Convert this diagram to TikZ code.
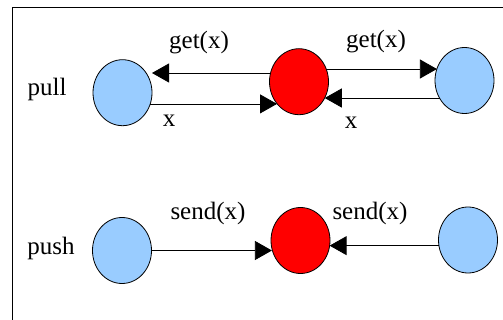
\documentclass[tikz,border=0pt]{standalone}
\usepackage{fontspec}
\setmainfont{Liberation Serif}
\usetikzlibrary{arrows.meta,shapes.geometric}
\definecolor{lblue}{HTML}{99CCFF}
\begin{document}
\begin{tikzpicture}[x=1pt,y=-1pt,
  proc/.style={ellipse,draw=black,line width=0.8pt,minimum width=59pt,minimum height=66pt,inner sep=0pt,outer sep=0pt},
  client/.style={proc,fill=lblue},
  server/.style={proc,fill=red},
  arr/.style={draw=black,line width=0.8pt,-{Triangle[length=17pt,width=19pt]}},
  lbl/.style={inner sep=0pt,font=\fontsize{25}{30}\selectfont}]
\useasboundingbox (0,0) rectangle (503,320);
\draw[line width=1pt] (12,320) -- (12,8) -- (503,8);
% pull
\node[client] (L1) at (122.5,92.7) {};
\node[server] (R1) at (299,81.7) {};
\node[client] (C1) at (464.5,80.5) {};
% push
\node[client] (L2) at (122,250.5) {};
\node[server] (R2) at (300.5,240.5) {};
\node[client] (C2) at (468,240) {};
% pull arrows
\draw[arr] (R1.163.4) -- (R1.163.4 -| L1.east);
\draw[arr] (L1.-22.6) -- (L1.-22.6 -| R1.225.9);
\draw[arr] (R1.25.4) -- (R1.25.4 -| C1.157.4);
\draw[arr] (C1.215) -- (C1.215 -| R1.-32.8);
% push arrows
\draw[arr] (L2.east) -- (L2.east -| R2.196.6);
\draw[arr] (C2.191.5) -- (C2.191.5 -| R2.-10.7);
% labels
\node[lbl] (tpull) at (47,89) {pull};
\node[lbl] (tpush) at (51,248) {push};
\node[lbl] (g1) at (199,43) {get(x)};
\node[lbl] (g2) at (376,42) {get(x)};
\node[lbl] (x1) at (169,121) {x};
\node[lbl] (x2) at (351,123) {x};
\node[lbl] (s1) at (208,213) {send(x)};
\node[lbl] (s2) at (370,213) {send(x)};
\end{tikzpicture}
\end{document}
